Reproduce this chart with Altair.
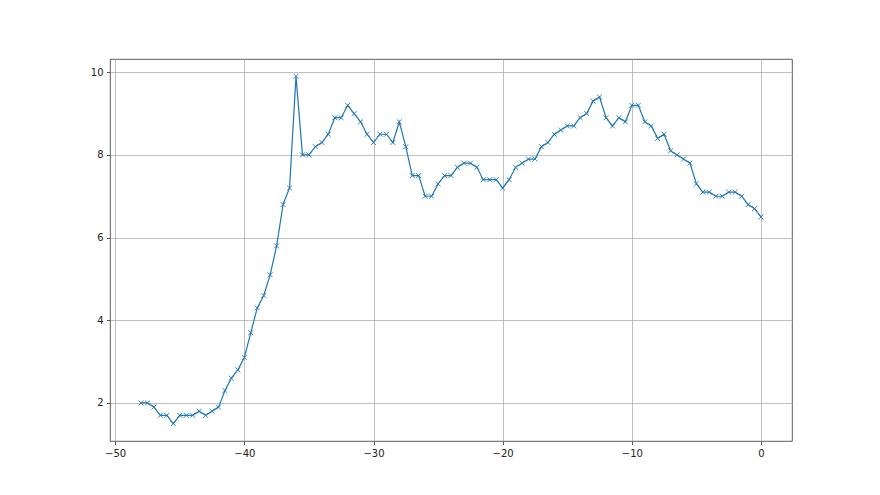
import altair as alt
import pandas as pd

x_start = -48.0
x_step = 0.5
y_values = [
    2.0, 2.0, 1.9, 1.7, 1.7, 1.5, 1.7, 1.7, 1.7, 1.8, 1.7, 1.8, 1.9, 2.3, 2.6, 2.8,
    3.1, 3.7, 4.3, 4.6, 5.1, 5.8, 6.8, 7.2, 9.9, 8.0, 8.0, 8.2, 8.3, 8.5, 8.9, 8.9,
    9.2, 9.0, 8.8, 8.5, 8.3, 8.5, 8.5, 8.3, 8.8, 8.2, 7.5, 7.5, 7.0, 7.0, 7.3, 7.5,
    7.5, 7.7, 7.8, 7.8, 7.7, 7.4, 7.4, 7.4, 7.2, 7.4, 7.7, 7.8, 7.9, 7.9, 8.2, 8.3,
    8.5, 8.6, 8.7, 8.7, 8.9, 9.0, 9.3, 9.4, 8.9, 8.7, 8.9, 8.8, 9.2, 9.2, 8.8, 8.7,
    8.4, 8.5, 8.1, 8.0, 7.9, 7.8, 7.3, 7.1, 7.1, 7.0, 7.0, 7.1, 7.1, 7.0, 6.8, 6.7,
    6.5,
]
x_values = [x_start + x_step * i for i in range(len(y_values))]
x_ticks = [-50, -40, -30, -20, -10, 0]
y_ticks = [2, 4, 6, 8, 10]

df = pd.DataFrame({"x": x_values, "y": y_values})

xs = alt.Scale(domain=[-50.4, 2.4], nice=False, zero=False)
ys = alt.Scale(domain=[1.08, 10.32], nice=False, zero=False)

axis_common = dict(
    title=None,
    grid=True,
    gridColor="#b0b0b0",
    gridWidth=0.8,
    domain=False,
    tickColor="#333333",
    tickSize=3.5,
    tickWidth=0.8,
    labelFont="DejaVu Sans",
    labelFontSize=10,
    labelColor="#222222",
    labelPadding=3.5,
)

x_enc = alt.X("x:Q", scale=xs, axis=alt.Axis(values=x_ticks, format="d", **axis_common))
y_enc = alt.Y("y:Q", scale=ys, axis=alt.Axis(values=y_ticks, format="d", **axis_common))

line = alt.Chart(df).mark_line(color="#1f77b4", strokeWidth=1.2).encode(x=x_enc, y=y_enc)
points = alt.Chart(df).mark_point(
    shape="M-1,-1L1,1M-1,1L1,-1",
    filled=False,
    color="#1f77b4",
    strokeWidth=0.9,
    size=24,
    opacity=1,
).encode(x="x:Q", y="y:Q")

chart = (
    alt.layer(line, points)
    .properties(
        width=682,
        height=382,
        autosize=alt.AutoSizeParams(type="none"),
        padding={"left": 102, "top": 51, "right": 80, "bottom": 46},
        background="white",
    )
    .configure_view(stroke="#333333", strokeWidth=0.8)
)

chart.save("out.html", embed_options={"renderer": "svg", "actions": False})
